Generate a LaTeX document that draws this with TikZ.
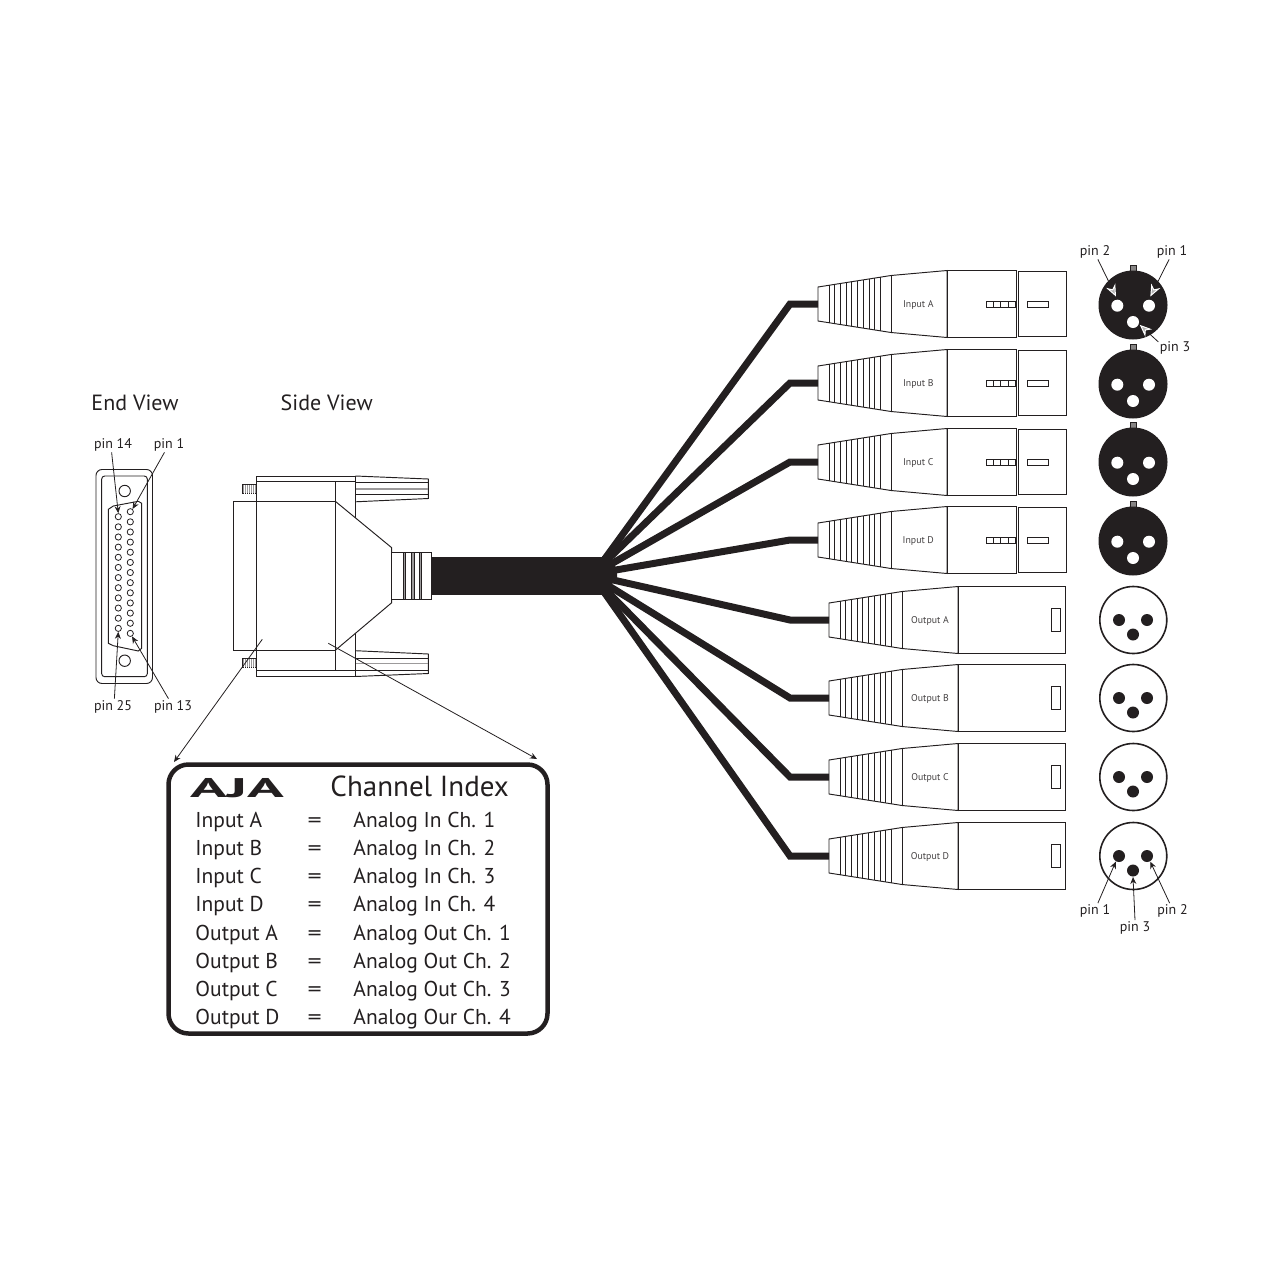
\documentclass[tikz,border=0pt]{standalone}
\usepackage{fontspec}
\setmainfont{PT Sans}
\usetikzlibrary{arrows.meta}
\definecolor{ink}{HTML}{231F20}
\newcommand{\px}[1]{\fontsize{#1}{#1}\selectfont}
\tikzset{
  plugboot/.pic={
    \draw (0,-17) -- (73,-28.5) -- (129,-33.5) -- (129,33.5) -- (73,28.5) -- (0,17) -- cycle;
    \draw (73,-28.5) -- (73,28.5);
    \foreach \r in {11,16.7,22.3,28,33.7,39.7,45.3,51,56.7,62}
      \draw[line width=.75] ({\r},{-17-\r*0.1575}) -- ({\r},{17+\r*0.1575});
  },
  thumbscrew/.pic={
    \draw (0,-13) -- (73,-10) -- (73,9.5) -- (0,12.8);
    \draw[line width=.8] (0,-7) -- (73,-7);
    \draw[line width=.8] (0,5) -- (73,5);
    \draw[line width=1.8,ink!45] (0,0) -- (73,0);
  },
  setscrew/.pic={
    \draw[fill=ink!45] (0,-4.5) rectangle (13.5,4.5);
    \foreach \r in {2,4,...,12}
      \draw[white,line width=.5] (\r,-4.5) -- (\r,4.5);
  },
}
\begin{document}
\begin{tikzpicture}[x=1pt,y=-1pt,line width=.95,draw=ink,text=ink,
  cable/.style={line width=7,draw=ink},
  viewlabel/.style={font=\px{22}},
  pinlabel/.style={font=\px{14},inner sep=1},
  pluglabel/.style={font=\px{9.8},inner sep=0,text=ink!85},
  rowtext/.style={font=\px{21.5},inner sep=0,anchor=base west},
  pinhole/.style={circle,draw,line width=.8,inner sep=0,minimum size=6.2},
  contact/.style={circle,fill=ink,inner sep=0,minimum size=12},
  socket/.style={circle,fill=white,inner sep=0,minimum size=12},
  arrowline/.style={-{Stealth[length=7,width=6]},line width=.8},
  openarrow/.style={-{Stealth[length=12,width=10,color=white,fill=ink!35,line width=1]},line width=.8}]

\useasboundingbox (0,0) rectangle (1280,1280);

% end view
\node[viewlabel] (endview) at (135,403) {End View};
\draw[rounded corners=6] (96,469.5) rectangle (152.5,683.5);
\draw[rounded corners=3] (101.7,476) rectangle (147.3,676.7);
\draw (124.7,491) circle (5.7);
\draw (124.7,660.7) circle (5.7);
\draw (108.3,509.3) -- (113.3,506) -- (138.3,501.3) -- (141.7,503.3) -- (141.7,648.3) -- (138.3,651) -- (113.3,645.7) -- (108.3,643.3) -- cycle;
\foreach \i in {1,...,13}
  \node[pinhole] (pr\i) at (130.3,{511.7+(\i-1)*10.14}) {};
\foreach \i in {14,...,25}
  \node[pinhole] (pl\i) at (118.3,{516.7+(\i-14)*10.15}) {};
\node[pinlabel] (lbl14) at (113,444.5) {pin 14};
\node[pinlabel] (lbl1) at (169,444.5) {pin 1};
\node[pinlabel] (lbl25) at (113,706.5) {pin 25};
\node[pinlabel] (lbl13) at (173,706.5) {pin 13};
\draw[arrowline] (lbl14.-100) -- (pl14.north);
\draw[arrowline] (lbl1.-120) -- (pr1.50);
\draw[arrowline] (lbl25.80) -- (pl25.south);
\draw[arrowline] (lbl13.120) -- (pr13.-60);

% side view
\node[viewlabel] (sideview) at (326.7,403) {Side View};
\pic at (355.3,489) {thumbscrew};
\pic[yscale=-1] at (355.3,663.5) {thumbscrew};
\pic at (242.5,489) {setscrew};
\pic at (242.5,663) {setscrew};
\draw[fill=white] (233.7,501.3) rectangle (256,650.3);
\draw[fill=white] (256,476) rectangle (355.3,676);
\draw (256,481) -- (355.3,481);
\draw (256,670.7) -- (355.3,670.7);
\draw (256,501.3) -- (335.3,501.3);
\draw (256,650.3) -- (335.3,650.3);
\fill[white] (335.3,501.3) -- (391.7,547.7) -- (391.7,602.7) -- (335.3,650.3) -- cycle;
\draw (335.3,501.3) -- (391.7,547.7) -- (391.7,602.7) -- (335.3,650.3);
\draw (335.3,481) -- (335.3,670.7);
\draw[fill=white] (391.7,552.3) rectangle (431,599.3);
\foreach \r/\s in {403.3/405.7,411.7/414.3,419.3/421.7}
  \draw[fill=ink!45,line width=.7] (\r,552.3) rectangle (\s,599.3);

% cable bundle
\node[fill=ink,inner sep=0,minimum width=170,minimum height=38.5] (bundle) at (516.7,575.8) {};
\fill[ink] (bundle.north east) -- (617,568) -- (617,578) -- (bundle.south east) -- cycle;

% input plugs
\foreach \nm/\txt/\y/\fy in {inA/Input A/304/565.5,inB/Input B/383/566.9,inC/Input C/462/570.3,inD/Input D/540/572.7}{
  \coordinate (fan\nm) at (600,\fy);
  \coordinate (tail\nm) at (818,\y);
  \draw[cable] (fan\nm) -- (790,\y) -- (tail\nm);
  \pic at (818,\y) {plugboot};
  \draw (947,\y-33.5) rectangle (1016,\y+33.5);
  \draw (1018,\y-32.5) rectangle (1066,\y+32.5);
  \draw (1027.3,\y-3) rectangle (1048.7,\y+3);
  \draw (986,\y-3) rectangle (1015.5,\y+3);
  \foreach \r in {993.4,1000.8,1008.2}
    \draw (\r,\y-3) -- (\r,\y+3);
  \node[pluglabel] (\nm) at (918.3,\y+1) {\txt};
}

% output plugs
\foreach \nm/\txt/\y/\fy in {outA/Output A/620/577,outB/Output B/698/580.5,outC/Output C/777/584,outD/Output D/856/586.3}{
  \coordinate (fan\nm) at (600,\fy);
  \coordinate (tail\nm) at (829,\y);
  \draw[cable] (fan\nm) -- (790,\y) -- (tail\nm);
  \pic at (829,\y) {plugboot};
  \draw (958,\y-33.7) rectangle (1065.7,\y+33.7);
  \draw (1051,\y-11.3) rectangle (1060,\y+11.3);
  \node[pluglabel] (\nm) at (930,\y+.5) {\txt};
}

% xlr faces, female
\foreach \nm/\y in {fa/305,fb/384,fc/462,fd/541}{
  \draw[fill=ink!55,line width=.5] (1130,\y-40) rectangle (1136,\y-33);
  \node[circle,fill=ink,inner sep=0,minimum size=69] (\nm) at (1133,\y) {};
  \node[socket] (\nm r) at (1149,\y+.7) {};
  \node[socket] (\nm l) at (1117.3,\y+.7) {};
  \node[socket] (\nm b) at (1133,\y+17) {};
}
\node[pinlabel] (fpin2) at (1095,251.5) {pin 2};
\node[pinlabel] (fpin1) at (1172,251.5) {pin 1};
\node[pinlabel] (fpin3) at (1175,348) {pin 3};
\draw[openarrow,shorten >=3] (fpin2.-70) -- (fal.north);
\draw[openarrow,shorten >=3] (fpin1.-110) -- (far.north);
\draw[openarrow,shorten >=1] (fpin3.160) -- (fab.-20);

% xlr faces, male
\foreach \nm/\y in {ma/620,mb/698,mc/777,md/856}{
  \node[circle,draw,line width=1.6,inner sep=0,minimum size=67] (\nm) at (1133.3,\y) {};
  \node[contact] (\nm l) at (1119,\y) {};
  \node[contact] (\nm r) at (1147,\y) {};
  \node[contact] (\nm b) at (1133,\y+14.5) {};
}
\node[pinlabel] (mpin1) at (1095,911) {pin 1};
\node[pinlabel] (mpin2) at (1172.5,911) {pin 2};
\node[pinlabel] (mpin3) at (1135,928) {pin 3};
\draw[arrowline] (mpin1.70) -- (mdl.-120);
\draw[arrowline] (mpin2.110) -- (mdr.-60);
\draw[arrowline] (mpin3.north) -- (mdb.south);

% channel index
\node[draw,rounded corners=20,line width=4.5,inner sep=0,minimum width=379,minimum height=269] (indexbox) at (358,899) {};
\coordinate (footl) at (262.3,639.3);
\coordinate (footr) at (328.3,643.3);
\coordinate (cornerl) at (174,762);
\coordinate (cornerr) at (537,759);
\draw[arrowline] (footl) -- (cornerl);
\draw[arrowline] (footr) -- (cornerr);
\node[font=\px{27}\bfseries,inner sep=0,xscale=2.25] (logo) at (237,788) {AJA};
\node[font=\px{29},inner sep=0,anchor=base west] (title) at (330,796) {Channel Index};
\foreach \i/\y/\lhs/\rhs in {1/827/Input A/Analog In Ch. 1,2/855/Input B/Analog In Ch. 2,3/883/Input C/Analog In Ch. 3,4/911/Input D/Analog In Ch. 4,5/940/Output A/Analog Out Ch. 1,6/968/Output B/Analog Out Ch. 2,7/996/Output C/Analog Out Ch. 3,8/1024/Output D/Analog Our Ch. 4}{
  \node[rowtext] (lhs\i) at (195,\y) {\lhs};
  \node[rowtext,xscale=1.3] (eq\i) at (307,\y) {=};
  \node[rowtext] (rhs\i) at (353,\y) {\rhs};
}
\end{tikzpicture}
\end{document}
